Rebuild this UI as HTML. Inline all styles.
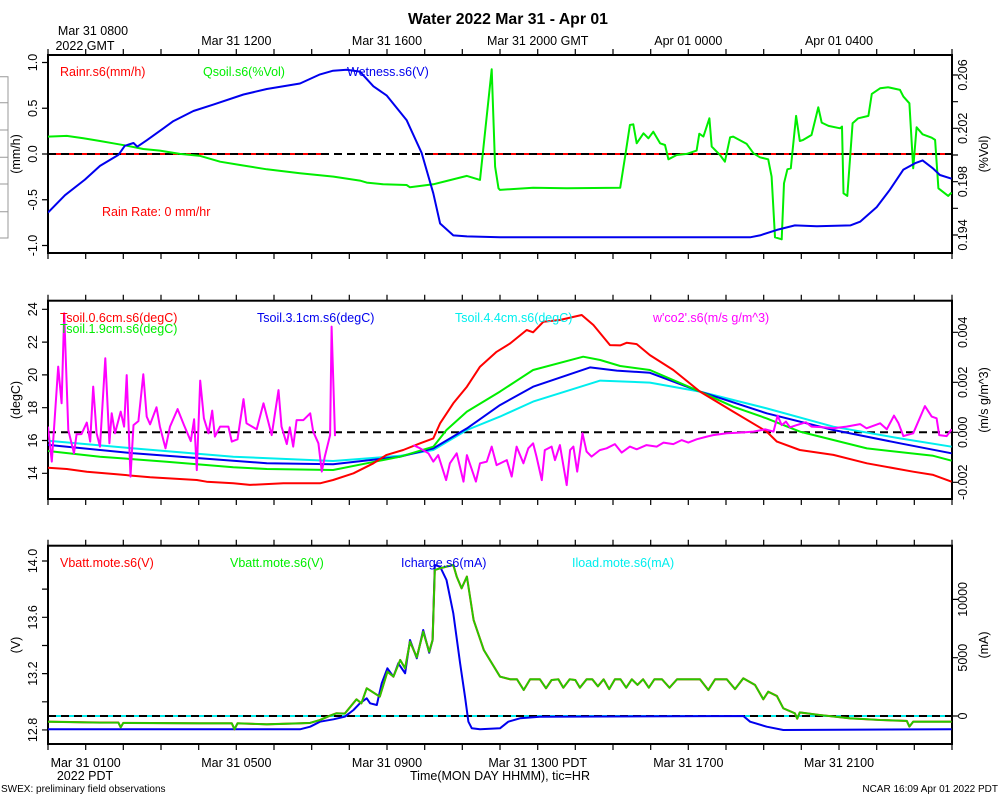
<!DOCTYPE html>
<html><head><meta charset="utf-8"><style>
html,body{margin:0;padding:0;background:#fff;}
svg{display:block;font-family:"Liberation Sans",Arial,sans-serif;}
</style></head><body>
<svg id="chart" width="1000" height="800" viewBox="0 0 1000 800" xmlns="http://www.w3.org/2000/svg">
<rect width="1000" height="800" fill="#fff"/>
<text x="508" y="24" text-anchor="middle" font-size="15.8" font-weight="bold">Water 2022 Mar 31 - Apr 01</text>
<g stroke="#999" stroke-width="1" fill="none">
<path d="M0 76.7H8V238H0M0 102.7H8M0 130H8M0 157.3H8M0 184H8M0 211.7H8"/>
</g>
<g id="g"></g>
<text x="93" y="35" text-anchor="middle" font-size="12.5">Mar 31 0800</text>
<text x="85" y="50" text-anchor="middle" font-size="12.5">2022 GMT</text>
<text x="85" y="780" text-anchor="middle" font-size="12.5">2022 PDT</text>
<text x="500" y="780" text-anchor="middle" font-size="12.5">Time(MON DAY HHMM), tic=HR</text>
<text x="1" y="792" font-size="10">SWEX: preliminary field observations</text>
<text x="998" y="792" text-anchor="end" font-size="10">NCAR 16:09 Apr 01 2022 PDT</text>
</svg>
<script>
// ---- data (time in hours PDT from Mar 31 0000) ----
const wetT=[0,0.45,0.98,1.38,1.87,2.04,2.27,2.37,2.62,3.06,3.33,3.86,4.39,5.19,5.81,6.69,7.22,7.57,7.93,8.28,8.64,8.99,9.52,9.92,10.23,10.41,10.76,11.12,12.0,18.64,18.9,19.35,19.83,20.41,21.3,21.56,22.0,22.35,22.71,23.02,23.22,23.5,23.68,23.99];
const wetV=[-0.64,-0.45,-0.28,-0.13,-0.01,0.09,0.12,0.08,0.15,0.28,0.36,0.47,0.54,0.65,0.71,0.77,0.87,0.91,0.92,0.90,0.74,0.64,0.37,0.01,-0.43,-0.76,-0.89,-0.90,-0.91,-0.91,-0.89,-0.83,-0.78,-0.79,-0.78,-0.74,-0.58,-0.39,-0.17,-0.10,-0.07,-0.16,-0.23,-0.27];
const qT=[0,0.5,0.94,1.38,1.73,2.09,2.53,2.97,3.5,4.04,4.57,5.1,5.81,6.69,7.58,8.28,8.46,8.9,9.52,9.61,10.23,10.58,11.12,11.47,11.78,11.87,11.96,12.0,12.88,13.77,15.19,15.32,15.45,15.54,15.63,15.81,15.94,16.07,16.25,16.38,16.47,16.69,16.96,17.22,17.29,17.4,17.56,17.62,17.84,17.97,18.11,18.19,18.55,18.73,18.9,19.12,19.21,19.3,19.48,19.54,19.63,19.72,19.86,19.96,20.05,20.27,20.45,20.54,20.72,21.03,21.08,21.12,21.22,21.36,21.51,21.78,21.87,22.09,22.31,22.62,22.71,22.87,22.97,23.06,23.22,23.46,23.55,23.64,23.9,23.99];
const qV=[0.20138,0.20143,0.20125,0.20105,0.20088,0.2007,0.20045,0.20033,0.20008,0.19993,0.1995,0.19925,0.19893,0.19863,0.19838,0.19808,0.19793,0.1978,0.19775,0.19758,0.1978,0.19805,0.19843,0.19813,0.20643,0.19913,0.1975,0.19738,0.19755,0.1975,0.19755,0.19988,0.20225,0.2023,0.20088,0.20163,0.20125,0.20175,0.20088,0.20075,0.19968,0.2,0.20008,0.20033,0.2016,0.20138,0.20275,0.20063,0.2,0.1995,0.20133,0.20138,0.20083,0.20013,0.19983,0.19968,0.19838,0.19383,0.19368,0.19788,0.19893,0.199,0.20293,0.20105,0.20113,0.2015,0.20358,0.20243,0.20218,0.202,0.20213,0.19713,0.19693,0.20238,0.20275,0.20293,0.20458,0.205,0.20508,0.20488,0.20438,0.20388,0.199,0.20208,0.20155,0.2013,0.20113,0.1975,0.19693,0.19718];
const rainT1=[0,7.46], rainV1=[0,0];
const rainT2=[10.14,24], rainV2=[0,0];

const t06T=[0,0.5,1.03,1.82,2.71,3.95,4.21,4.92,5.36,6.25,7.22,7.57,8.11,8.64,8.99,9.43,9.88,10.23,10.41,10.76,11.12,11.47,11.91,12.27,12.71,12.88,13.15,13.59,14.17,14.48,14.92,15.19,15.36,15.63,15.98,16.6,17.31,18.19,19.08,19.35,19.96,20.85,21.74,22.97,23.5,23.99];
const t06V=[14.34,14.26,14.1,13.94,13.76,13.59,13.49,13.39,13.29,13.39,13.39,13.59,14.0,14.61,15.12,15.42,15.83,16.13,17.05,18.27,19.28,20.5,21.41,21.92,22.74,22.6,23.24,23.35,23.65,23.04,21.82,21.8,21.96,21.88,21.21,20.3,18.98,17.76,16.54,15.93,15.42,15.12,14.61,14.1,13.9,13.49];
const t19T=[0,1.38,3.15,4.92,5.81,7.57,8.46,9.35,10.23,10.58,11.12,12.0,12.88,14.21,14.66,15.19,15.98,17.31,18.19,19.08,19.96,21.74,23.5,23.99];
const t19V=[15.36,15.01,14.71,14.37,14.26,14.2,14.61,15.01,15.62,16.64,17.76,18.98,20.3,21.11,20.91,20.54,20.3,18.98,18.06,17.35,16.54,15.52,15.07,14.77];
const t31T=[0,2.27,4.92,5.81,7.57,9.35,10.23,11.12,12.0,12.88,14.39,15.1,15.98,17.31,19.08,20.85,22.62,23.99];
const t31V=[15.73,15.22,14.77,14.61,14.55,15.01,15.52,16.74,18.16,19.28,20.46,20.26,20.13,18.98,17.66,16.64,15.83,15.22];
const t44T=[0,2.27,4.92,7.57,9.35,10.23,11.12,12.0,12.88,14.66,15.98,17.31,19.08,20.85,22.62,23.99];
const t44V=[15.99,15.52,15.01,14.75,15.07,15.42,16.64,17.46,18.37,19.65,19.53,18.98,17.96,16.84,16.13,15.62];
const co2T1=[0,0.1,0.27,0.36,0.43,0.54,0.69,0.76,0.89,1.03,1.12,1.2,1.29,1.38,1.52,1.63,1.69,1.78,1.93,2.02,2.09,2.19,2.27,2.4,2.53,2.62,2.71,2.88,2.97,3.12,3.24,3.44,3.61,3.79,3.88,3.95,4.04,4.14,4.26,4.36,4.43,4.57,4.79,4.88,5.03,5.19,5.27,5.54,5.72,5.94,6.12,6.2,6.34,6.42,6.51,6.6,6.78,6.96,7.04,7.18,7.27,7.35,7.49,7.53,7.62];
const co2V1=[0.23,-1.17,2.63,1.16,4.76,0.09,-0.84,-0.08,-0.07,0.39,-0.37,1.83,-0.04,-0.57,2.96,-0.44,0.76,-0.04,0.83,0.23,2.29,-1.77,0.29,0.45,2.32,0.63,0.32,1.0,0.23,-0.64,0.23,0.93,0.29,-0.35,0.52,-1.51,2.07,0.56,-0.04,0.87,-0.17,0.23,0.23,-0.37,-0.28,1.33,0.36,0.12,1.16,-0.11,1.69,0.23,-0.47,0.2,-0.57,0.49,0.49,0.76,0.03,-0.44,-1.57,-0.97,-0.11,4.23,-0.15].map(v=>v*1e-3);
const co2T2=[9.7,9.88,10.1,10.23,10.36,10.57,10.67,10.85,11.03,11.12,11.36,11.47,11.65,11.78,11.91,12.18,12.31,12.44,12.62,12.75,12.88,12.97,13.11,13.19,13.37,13.46,13.59,13.77,13.86,13.95,14.05,14.19,14.3,14.43,14.65,14.83,15.05,15.23,15.45,15.63,15.89,16.16,16.34,16.6,16.82,17.0,17.22,17.49,17.66,18.02,18.37,18.73,19.04,19.26,19.37,19.48,19.59,19.7,19.88,20.12,20.27,20.58,20.85,21.2,21.56,21.73,22.09,22.27,22.46,22.58,22.71,22.97,23.28,23.46,23.59,23.66,23.86,23.99];
const co2V2=[-0.51,-0.64,-0.84,-1.17,-0.91,-1.91,-1.24,-0.84,-1.97,-0.91,-1.97,-1.24,-1.17,-0.57,-1.31,-1.11,-1.77,-0.57,-1.24,-0.64,-0.44,-0.97,-1.91,-0.71,-0.57,-1.11,-0.51,-2.11,-0.71,-0.57,-1.57,-0.04,-0.77,-0.97,-0.71,-0.64,-0.47,-0.81,-0.57,-0.68,-0.51,-0.57,-0.41,-0.47,-0.31,-0.41,-0.28,-0.17,-0.11,-0.04,-0.01,0.03,0.12,0.03,0.67,0.29,0.43,0.2,0.29,0.4,0.23,0.2,0.16,0.23,0.33,0.16,0.36,0.12,0.67,0.36,-0.15,-0.04,1.05,0.63,0.56,-0.11,-0.15,0.12].map(v=>v*1e-3);

const vbT=[0,1.38,1.87,1.93,2.0,4.04,4.88,4.95,5.03,5.81,6.69,6.96,7.22,7.49,7.66,7.88,8.19,8.32,8.46,8.81,9.01,9.17,9.35,9.48,9.61,9.79,9.96,10.12,10.21,10.27,10.41,10.58,10.76,10.85,10.98,11.12,11.3,11.57,12.0,12.27,12.45,12.63,12.8,13.06,13.22,13.37,13.55,13.68,13.85,14.0,14.12,14.3,14.45,14.6,14.75,14.9,15.05,15.2,15.35,15.5,15.65,15.8,15.95,16.1,16.3,16.5,16.7,16.9,17.1,17.31,17.53,17.71,18.02,18.24,18.46,18.77,18.99,19.12,19.35,19.52,19.83,19.89,19.96,20.49,21.29,22.09,22.8,22.87,22.97,23.99];
const vbV=[12.859,12.852,12.852,12.819,12.85,12.847,12.847,12.805,12.847,12.84,12.847,12.85,12.871,12.902,12.918,12.916,13.018,12.989,13.096,13.037,13.214,13.179,13.297,13.238,13.427,13.316,13.498,13.356,13.439,13.936,13.948,13.96,13.972,13.889,13.806,13.889,13.581,13.368,13.179,13.16,13.16,13.084,13.16,13.16,13.096,13.155,13.16,13.1,13.16,13.155,13.1,13.16,13.16,13.11,13.16,13.09,13.16,13.16,13.1,13.16,13.12,13.16,13.1,13.16,13.16,13.1,13.16,13.16,13.16,13.16,13.084,13.16,13.16,13.09,13.167,13.12,13.018,13.072,13.041,12.954,12.918,12.88,12.925,12.906,12.883,12.871,12.864,12.824,12.859,12.859];
const icT=[0,6.69,6.96,7.22,7.58,7.88,8.11,8.28,8.46,8.55,8.73,8.86,9.01,9.17,9.3,9.48,9.61,9.79,9.96,10.12,10.21,10.27,10.41,10.58,10.76,10.94,11.07,11.16,11.25,11.47,12.0,12.22,12.53,13.06,18.46,18.64,19.08,19.52,23.99];
const icV=[-1144,-1144,-915,-486,-286,-57,515,1086,1515,1086,943,2802,4088,3374,4517,3660,6519,4946,7376,5432,6519,12951,12808,11665,8806,4517,1658,-486,-1058,-1144,-1058,-486,-200,-57,0,-486,-915,-1201,-1144];
const ilT=[0,24], ilV=[0,0];

// ---- axes ----
const X=h=>48+h*904/24;
const yL1=v=>154-v*91.5, yR1=v=>75+(0.206-v)*13333;
const yL2=v=>309.3+(24-v)*16.4, yR2=v=>432.3-v*25000;
const yL3=v=>561+(14-v)*140.8, yR3=v=>716-v*58.3/5000;
const leftT1=[1.0,0.5,0.0,-0.5,-1.0], leftL1=["1.0","0.5","0.0","-0.5","-1.0"];
const rightT1=[0.206,0.202,0.198,0.194], rightL1=["0.206","0.202","0.198","0.194"];
const leftT2=[24,22,20,18,16,14], rightT2=[0.004,0.002,0,-0.002], rightL2=["0.004","0.002","0.000","-0.002"];
const leftT3=[14.0,13.6,13.2,12.8], leftL3=["14.0","13.6","13.2","12.8"];
const rightT3=[10000,5000,0];
const topHours=[5,9,13,17,21], topLbl=["Mar 31 1200","Mar 31 1600","Mar 31 2000 GMT","Apr 01 0000","Apr 01 0400"];
const botHours=[1,5,9,13,17,21], botLbl=["Mar 31 0100","Mar 31 0500","Mar 31 0900","Mar 31 1300 PDT","Mar 31 1700","Mar 31 2100"];

const NS="http://www.w3.org/2000/svg", G=document.getElementById('g');
function mk(tag,attrs,parent){const e=document.createElementNS(NS,tag);for(const k in attrs)e.setAttribute(k,attrs[k]);(parent||G).appendChild(e);return e;}
function txt(x,y,s,size,fill,anchor,rot,name){const e=mk('text',{x:x,y:y,'font-size':size,fill:fill,'text-anchor':anchor});if(rot)e.setAttribute('transform','rotate(-90 '+x+' '+y+')');e.textContent=s;


return e;}
const panels=[{t:55,b:253,n:'top'},{t:300.7,b:499,n:'middle'},{t:545.7,b:744,n:'bottom'}];
const defs=mk('defs',{});


panels.forEach((p,i)=>{const c=mk('clipPath',{id:'c'+i},defs);mk('rect',{x:48,y:p.t,width:904,height:p.b-p.t},c);});
function line(ts,vs,yf,color,clip,name,w){const d=ts.map((t,i)=>(i?'L':'M')+X(t).toFixed(1)+' '+yf(vs[i]).toFixed(1)).join('');
const e=mk('path',{d:d,fill:'none',stroke:color,'stroke-width':w||2,'stroke-linejoin':'round','clip-path':'url(#c'+clip+')'});

}
function dashed(y,clip){const e=mk('line',{x1:48,x2:952,y1:y,y2:y,stroke:'#000','stroke-width':2,'stroke-dasharray':'8,5'});

}

panels.forEach((p,i)=>{
 const fr=mk('rect',{x:48,y:p.t,width:904,height:p.b-p.t,fill:'none',stroke:'#000','stroke-width':2});
 
 
 let d='';for(let h=0;h<=24;h++){const x=X(h).toFixed(1);d+='M'+x+' '+(p.t-6)+'V'+p.t+'M'+x+' '+p.b+'V'+(p.b+6);}
 const tk=mk('path',{d:d,stroke:'#000','stroke-width':1.2});
 
 
});
function yticks(vals,labels,yf,side,name,minor){let d='';const x0=side<0?48:952;
 vals.forEach((v,i)=>{const y=yf(v);d+='M'+x0+' '+y+'h'+(6*side);if(labels&&labels[i]!=null)txt(side<0?37:967,y,labels[i],12.5,'#000','middle',true,name+'-label');});
 (minor||[]).forEach(v=>{const y=yf(v);d+='M'+x0+' '+y+'h'+(6*side);});
 const e=mk('path',{d:d,stroke:'#000','stroke-width':1.2});
 
 }
yticks(leftT1,leftL1,yL1,-1,'left-axis-rain');
yticks(rightT1,rightL1,yR1,1,'right-axis-qsoil',[0.204,0.2,0.196]);
yticks(leftT2,leftT2.map(String),yL2,-1,'left-axis-temp');
yticks(rightT2,rightL2,yR2,1,'right-axis-co2');
yticks(leftT3,leftL3,yL3,-1,'left-axis-volt',[13.8,13.4,13.0]);
yticks(rightT3,rightT3.map(String),yR3,1,'right-axis-current');
txt(20,154,'(mm/h)',12.5,'#000','middle',true,'y-axis-title-left-top');
txt(988,154,'(%Vol)',12.5,'#000','middle',true,'y-axis-title-right-top');
txt(20,400,'(degC)',12.5,'#000','middle',true,'y-axis-title-left-middle');
txt(988,400,'(m/s g/m^3)',12.5,'#000','middle',true,'y-axis-title-right-middle');
txt(20,645,'(V)',12.5,'#000','middle',true,'y-axis-title-left-bottom');
txt(988,645,'(mA)',12.5,'#000','middle',true,'y-axis-title-right-bottom');
topHours.forEach((h,i)=>txt(X(h),45,topLbl[i],12.5,'#000','middle',false,'top-time-label'));
botHours.forEach((h,i)=>txt(X(h),767,botLbl[i],12.5,'#000','middle',false,'bottom-time-label'));

// panel 1
line(rainT1,rainV1,yL1,'#ff0000',0,'rain-line');
line(rainT2,rainV2,yL1,'#ff0000',0,'rain-line');
dashed(yL1(0),0);
line(qT,qV,yR1,'#00ee00',0,'qsoil-line');
line(wetT,wetV,yL1,'#0000ee',0,'wetness-line');
txt(60,76,'Rainr.s6(mm/h)',12.5,'#ff0000','start',false,'legend-rainr');
txt(203,76,'Qsoil.s6(%Vol)',12.5,'#00ee00','start',false,'legend-qsoil');
txt(347,76,'Wetness.s6(V)',12.5,'#0000ee','start',false,'legend-wetness');
txt(102,216,'Rain Rate: 0 mm/hr',12.5,'#ff0000','start',false,'rain-rate-note');
// panel 2
dashed(yR2(0),1);
line(t44T,t44V,yL2,'#00eeee',1,'tsoil-4.4cm-line');
line(t31T,t31V,yL2,'#0000ee',1,'tsoil-3.1cm-line');
line(t19T,t19V,yL2,'#00ee00',1,'tsoil-1.9cm-line');
line(t06T,t06V,yL2,'#ff0000',1,'tsoil-0.6cm-line');
line(co2T1,co2V1,yR2,'#ff00ff',1,'wco2-line');
line(co2T2,co2V2,yR2,'#ff00ff',1,'wco2-line');
txt(60,322,'Tsoil.0.6cm.s6(degC)',12.5,'#ff0000','start',false,'legend-tsoil-0.6');
txt(60,333,'Tsoil.1.9cm.s6(degC)',12.5,'#00ee00','start',false,'legend-tsoil-1.9');
txt(257,322,'Tsoil.3.1cm.s6(degC)',12.5,'#0000ee','start',false,'legend-tsoil-3.1');
txt(455,322,'Tsoil.4.4cm.s6(degC)',12.5,'#00eeee','start',false,'legend-tsoil-4.4');
txt(653,322,"w'co2'.s6(m/s g/m^3)",12.5,'#ff00ff','start',false,'legend-wco2');
// panel 3
line(ilT,ilV,yR3,'#00eeee',2,'iload-line');
dashed(yR3(0),2);
line(icT,icV,yR3,'#0000ee',2,'icharge-line');
line(vbT,vbV,yL3,'#dd3300',2,'vbatt-red-line',2.1);
line(vbT,vbV,yL3,'#22cc00',2,'vbatt-green-line',1.8);
txt(60,567,'Vbatt.mote.s6(V)',12.5,'#ff0000','start',false,'legend-vbatt-red');
txt(230,567,'Vbatt.mote.s6(V)',12.5,'#00ee00','start',false,'legend-vbatt-green');
txt(401,567,'Icharge.s6(mA)',12.5,'#0000ee','start',false,'legend-icharge');
txt(572,567,'Iload.mote.s6(mA)',12.5,'#00eeee','start',false,'legend-iload');
</script>
</body></html>
